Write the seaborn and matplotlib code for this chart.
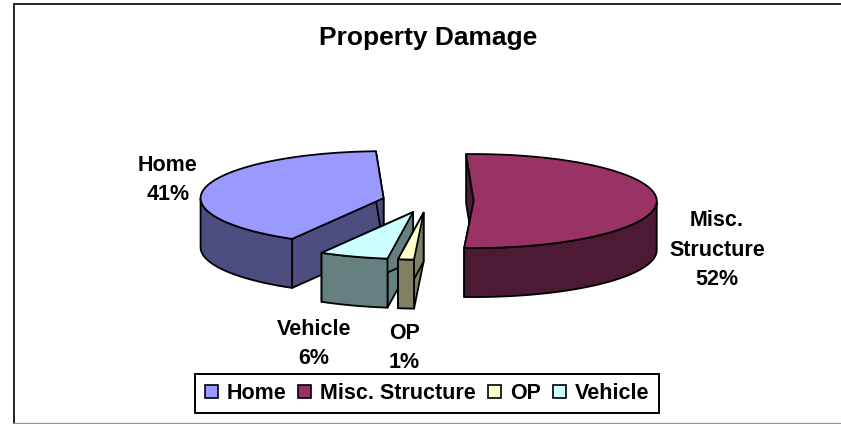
import numpy as np
import matplotlib
matplotlib.use("Agg")
import matplotlib.pyplot as plt
from matplotlib.patches import Patch
import seaborn as sns

sns.set_theme(style="white")
plt.rcParams['font.family'] = ['Liberation Sans', 'DejaVu Sans']

# valores
categories = ['Home', 'Misc. Structure', 'OP', 'Vehicle']
values = [41.0, 51.5, 1.4, 6.1]
top_colors = ['#9999FF', '#993366', '#FFFFCC', '#CCFFFF']
side_colors = ['#4D4D80', '#4D1A33', '#808066', '#668080']
label_text = ['Home\n41%', 'Misc.\nStructure\n52%', 'OP\n1%', 'Vehicle\n6%']
label_pos = [(168, 180), (717, 250), (404.5, 348), (314, 344)]

# geometria del pastel en pixeles
cx, cy = 428, 201
a, b = 183, 47
depth = 49
explode = 0.25
start = 240


def punto(ox, oy, ang, dz=0):
    r = np.radians(ang)
    return ox + a * np.cos(r), oy - b * np.sin(r) + dz


def poligono(ax, pts, color):
    ax.fill([p[0] for p in pts], [p[1] for p in pts], facecolor=color, edgecolor='black',
            linewidth=1.3, joinstyle='round')


def porcion(ax, ang_hi, ang_lo, top, side):
    # ang_hi -> ang_lo va en sentido horario
    mid = np.radians((ang_hi + ang_lo) / 2)
    ox = cx + explode * a * np.cos(mid)
    oy = cy - explode * b * np.sin(mid)
    for ang in (ang_hi, ang_lo):
        poligono(ax, [(ox, oy), punto(ox, oy, ang), punto(ox, oy, ang, depth), (ox, oy + depth)], side)
    # pared exterior, solo la parte delantera
    angs = np.linspace(ang_lo, ang_hi, 120)
    front = angs[np.sin(np.radians(angs)) <= 0]
    if len(front) > 1:
        arriba = [punto(ox, oy, t) for t in front]
        abajo = [punto(ox, oy, t, depth) for t in front[::-1]]
        poligono(ax, arriba + abajo, side)
    cara = [(ox, oy)] + [punto(ox, oy, t) for t in angs]
    poligono(ax, cara, top)


fig = plt.figure(figsize=(8.41, 4.24), dpi=100)
ax = fig.add_axes([0, 0, 1, 1])
ax.set_xlim(0, 841)
ax.set_ylim(424, 0)
ax.axis('off')

# borde del grafico: sin lado derecho
ax.plot([841, 14.5, 14.5], [3.5, 3.5, 423], color='#222222', linewidth=1.4, solid_joinstyle='miter')
ax.plot([14.5, 841], [423, 423], color='#999999', linewidth=1.0)

# sentido horario desde start: Home, Misc, OP, Vehicle
angulos = [start + 360]
for v in values:
    angulos.append(angulos[-1] - v * 3.6)

for i in [0, 1, 3, 2]:
    porcion(ax, angulos[i], angulos[i + 1], top_colors[i], side_colors[i])

ax.text(428, 38, 'Property Damage', ha='center', va='center', fontsize=19, fontweight='bold', color='black')

for txt, pos in zip(label_text, label_pos):
    ax.text(pos[0], pos[1], txt, ha='center', va='center', fontsize=15.5, fontweight='bold',
            color='black', linespacing=1.53)

handles = [Patch(facecolor=c, edgecolor='black', linewidth=1.2) for c in top_colors]
leg = ax.legend(handles, categories, ncol=4, loc='center', bbox_to_anchor=(427 / 841, 1 - 393.5 / 424),
                fontsize=15.5, frameon=True, fancybox=False, edgecolor='black', framealpha=1,
                handlelength=0.6, handleheight=0.6, handletextpad=0.42, columnspacing=0.55,
                borderpad=0.44, borderaxespad=0)
leg.get_frame().set_linewidth(1.4)
for t in leg.get_texts():
    t.set_fontweight('bold')
    t.set_color('black')

fig.savefig('out.png', dpi=100, facecolor='white')
